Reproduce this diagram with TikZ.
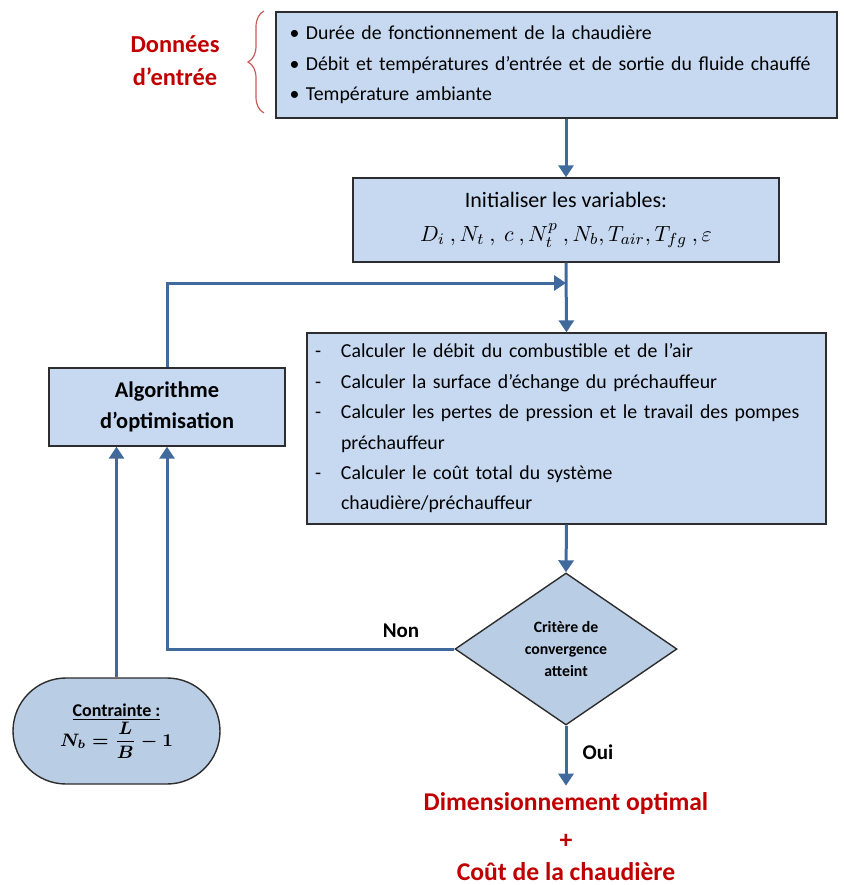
\documentclass[tikz,border=0pt]{standalone}
\usepackage{amsmath}
\usepackage{fontspec}
\setmainfont{Carlito}
\usepackage{xcolor}
\usepackage{tikz}
\usetikzlibrary{positioning,arrows.meta,shapes.geometric,shapes.misc,calc,decorations.pathreplacing}

\definecolor{boxblue}{RGB}{198,217,241}
\definecolor{shapeblue}{RGB}{185,205,229}
\definecolor{flowblue}{RGB}{64,106,156}
\definecolor{darkred}{RGB}{192,0,0}
\definecolor{bracered}{RGB}{200,90,90}
\definecolor{edgegray}{RGB}{45,45,45}

\newcommand{\tiret}{\makebox[13pt][l]{-}}
\newcommand{\suite}{\hspace*{13pt}}

\begin{document}
\begin{tikzpicture}[
    x=0.5pt, y=-0.5pt,
    box/.style={rectangle, draw=edgegray, line width=0.7pt, fill=boxblue, inner sep=0pt},
    flow/.style={-{Triangle[length=6pt,width=7.5pt]}, line width=1.5pt, draw=flowblue},
    title/.style={font=\fontsize{12.2}{16.5}\selectfont\bfseries, text=darkred, align=center},
    txt/.style={font=\fontsize{9.9}{15.2}\selectfont, align=left},
    tag/.style={font=\fontsize{10.5}{12}\selectfont\bfseries}
]
\useasboundingbox (0,0) rectangle (844,885);

% Input data
\node[box, txt, minimum width=280.5pt, minimum height=53pt, text width=267pt] (donnees) at (556.5,65)
    {\textbullet\ Durée de fonctionnement de la chaudière\\
     \textbullet\ Débit et températures d’entrée et de sortie du fluide chauffé\\
     \textbullet\ Température ambiante};
\node[title] (entree) at (175,61) {Données\\d’entrée};
\draw[bracered, line width=0.6pt, decorate, decoration={brace, amplitude=8pt}] (264,113) -- (264,11);

% Initialisation
\node[box, minimum width=213pt, minimum height=42pt, align=center, font=\fontsize{11}{17}\selectfont] (init) at (566,220)
    {Initialiser les variables:\\
     {\fontsize{11}{17}\selectfont $D_i\ ,N_t\ ,\ c\ ,N_t^p\ ,N_b, T_{air}, T_{fg}\ ,\varepsilon$}};
\draw[flow] (donnees.south -| init.north) -- (init.north);
\coordinate (merge) at (566,283);

% Calculations
\node[box, txt, minimum width=259.5pt, minimum height=95.5pt, text width=251.5pt] (calc) at (566.5,428.5)
    {\tiret Calculer le débit du combustible et de l’air\\
     \tiret Calculer la surface d’échange du préchauffeur\\
     \tiret Calculer les pertes de pression et le travail des pompes\\
     \suite préchauffeur\\
     \tiret Calculer le coût total du système\\
     \suite chaudière/préchauffeur};
\draw[flow] (init.south) -- (calc.north);

% Optimisation algorithm
\node[box, minimum width=118pt, minimum height=39pt, align=center, font=\fontsize{11.2}{15.5}\selectfont\bfseries] (algo) at (167,407)
    {Algorithme\\d’optimisation};
\draw[flow] (algo.north) |- (merge);

% Convergence test
\node[diamond, draw=edgegray, line width=0.7pt, fill=shapeblue, shape aspect=1.46, minimum width=111pt, minimum height=76pt,
      inner sep=0pt, align=center, font=\fontsize{7.9}{11}\selectfont\bfseries] (crit) at (566,649)
    {Critère de\\convergence\\atteint};
\draw[flow] (calc.south) -- (crit.north);
\draw[flow] (crit.west) -| (algo.south);
\node[tag] (non) at (401,631) {Non};

% Constraint
\node[rounded rectangle, draw=edgegray, line width=0.7pt, fill=shapeblue, minimum width=103.5pt, minimum height=53pt,
      inner sep=0pt, align=center, font=\fontsize{9}{13}\selectfont\bfseries] (contrainte) at (116.5,731)
    {\underline{Contrainte~:}\\ {\boldmath $N_b=\dfrac{L}{B}-1$}};
\draw[flow] (contrainte.north) -- (contrainte.north |- algo.south);

% Result
\node[title, font=\fontsize{12.8}{16}\selectfont\bfseries, below=30pt of crit] (result)
    {Dimensionnement optimal\\[3pt]+\\Coût de la chaudière};
\draw[flow] (crit.south) -- (result.north);
\node[tag] (oui) at (598,752) {Oui};

\end{tikzpicture}
\end{document}
